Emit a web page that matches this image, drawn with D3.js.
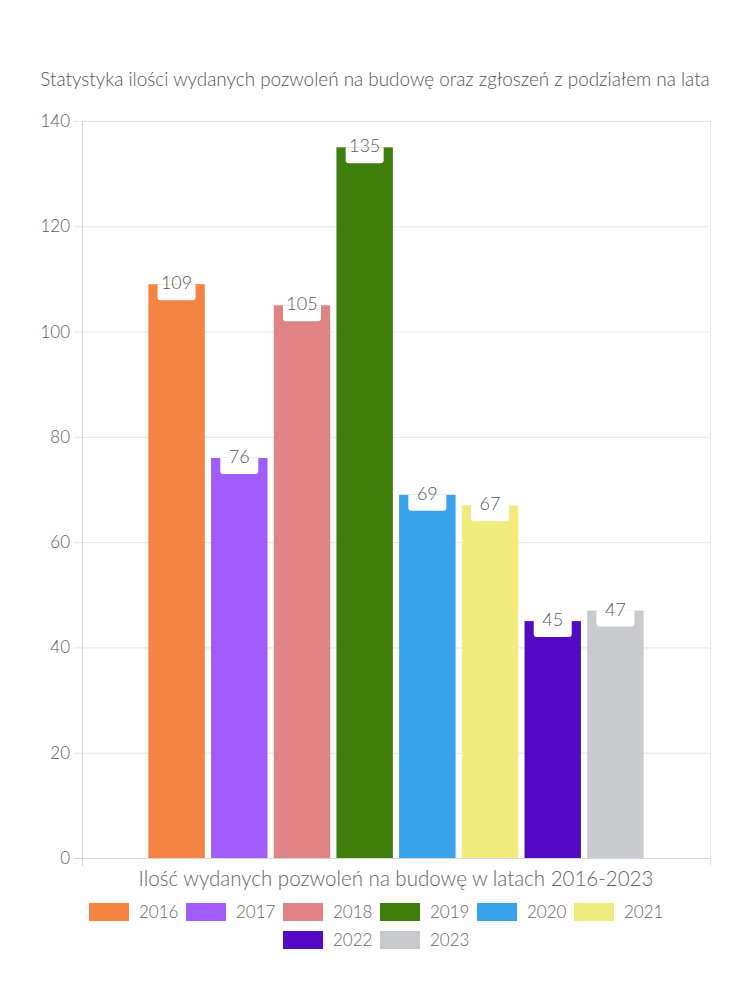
<!DOCTYPE html>
<html><head><meta charset="utf-8">
<script src="https://cdn.jsdelivr.net/npm/d3@7"></script>
<style>body{margin:0;background:#fff}svg{display:block}text{font-family:"Lato","Noto Sans",sans-serif;fill:#666;font-weight:300}</style>
</head><body>
<svg id="c" width="750" height="1000"></svg>
<script>
const title = "Statystyka ilości wydanych pozwoleń na budowę oraz zgłoszeń z podziałem na lata";
const xTitle = "Ilość wydanych pozwoleń na budowę w latach 2016-2023";
const categories = ["Ilość"];
const years = ["2016","2017","2018","2019","2020","2021","2022","2023"];
const values = [109, 76, 105, 135, 69, 67, 45, 47];
const colors = ["#F58442","#A05CFF","#E08385","#3F7D0C","#37A3EA","#F0EB7C","#520BC3","#C9CACE"];
const yTicks = [0,20,40,60,80,100,120,140];

const svg = d3.select("#c");
const m = {left:82, right:710, top:121, bottom:858};
const y = d3.scaleLinear().domain([0,140]).range([m.bottom,m.top]);
const x0 = d3.scaleBand().domain(categories).range([m.left,m.right]).paddingInner(0).paddingOuter(0.134);
const x1 = d3.scaleBand().domain(years).range([0,x0.bandwidth()]).paddingInner(0.1).paddingOuter(0);

function fitText(sel, target){
  const w = sel.node().getComputedTextLength();
  const fs = parseFloat(sel.attr("font-size"));
  sel.attr("font-size", fs*target/w);
}

// title
const t = svg.append("text").attr("x",375).attr("y",86).attr("text-anchor","middle").attr("font-size",15).style("fill","#555").text(title);
fitText(t, 670);

// grid
svg.append("g").selectAll("line").data(yTicks).join("line")
  .attr("x1",m.left-8).attr("x2",m.right).attr("y1",d=>y(d)+0.5).attr("y2",d=>y(d)+0.5)
  .attr("stroke",d=>d===0?"#d6d6d6":"#e6e6e6").attr("stroke-width",1);
svg.append("line").attr("x1",m.left+0.5).attr("x2",m.left+0.5).attr("y1",m.top).attr("y2",m.bottom+8).attr("stroke","#d6d6d6");
svg.append("line").attr("x1",m.right+0.5).attr("x2",m.right+0.5).attr("y1",m.top).attr("y2",m.bottom+8).attr("stroke","#e6e6e6");

// y labels
svg.append("g").selectAll("text").data(yTicks).join("text")
  .attr("x",70).attr("y",d=>y(d)).attr("dy","0.35em").attr("text-anchor","end")
  .attr("font-size",17).style("fill","#5a5a5a").text(d=>d);

// bars
const g = svg.append("g").attr("transform",`translate(${x0(categories[0])},0)`);
const data = years.map((yr,i)=>({yr, v:values[i], c:colors[i]}));
g.selectAll("rect.bar").data(data).join("rect").attr("class","bar")
  .attr("x",d=>x1(d.yr)).attr("width",x1.bandwidth())
  .attr("y",d=>y(d.v)).attr("height",d=>y(0)-y(d.v))
  .attr("fill",d=>d.c);

// labels
const bw = 38, bh = 16, r = 3;
g.selectAll("path.lbl").data(data).join("path").attr("class","lbl")
  .attr("d",d=>{
    const cx = x1(d.yr)+x1.bandwidth()/2, top = y(d.v);
    const l = cx-bw/2, rr = cx+bw/2, b = top+bh;
    return `M${l},${top}L${rr},${top}L${rr},${b-r}Q${rr},${b} ${rr-r},${b}L${l+r},${b}Q${l},${b} ${l},${b-r}Z`;
  }).attr("fill","#fff");
g.selectAll("text.lbl").data(data).join("text").attr("class","lbl")
  .attr("x",d=>x1(d.yr)+x1.bandwidth()/2).attr("y",d=>y(d.v)+5)
  .attr("text-anchor","middle").attr("font-size",18).style("fill","#5a5a5a").text(d=>d.v);

// x axis title
const xt = svg.append("text").attr("x",396).attr("y",886).attr("text-anchor","middle").attr("font-size",16).text(xTitle);
fitText(xt, 515);

// legend
const rows = [years.slice(0,6), years.slice(6)];
const rowY = [903, 931];
rows.forEach((row,ri)=>{
  const lg = svg.append("g");
  let xpos = 0;
  row.forEach(yr=>{
    const i = years.indexOf(yr);
    const it = lg.append("g").attr("transform",`translate(${xpos},0)`);
    it.append("rect").attr("width",40).attr("height",18).attr("fill",colors[i]);
    const tx = it.append("text").attr("x",50).attr("y",9).attr("dy","0.35em").attr("font-size",17).text(yr);
    xpos += 50 + 37 + 10;
  });
  const total = xpos - 10;
  lg.attr("transform",`translate(${375 - total/2},${rowY[ri]})`);
});
</script>
</body></html>
